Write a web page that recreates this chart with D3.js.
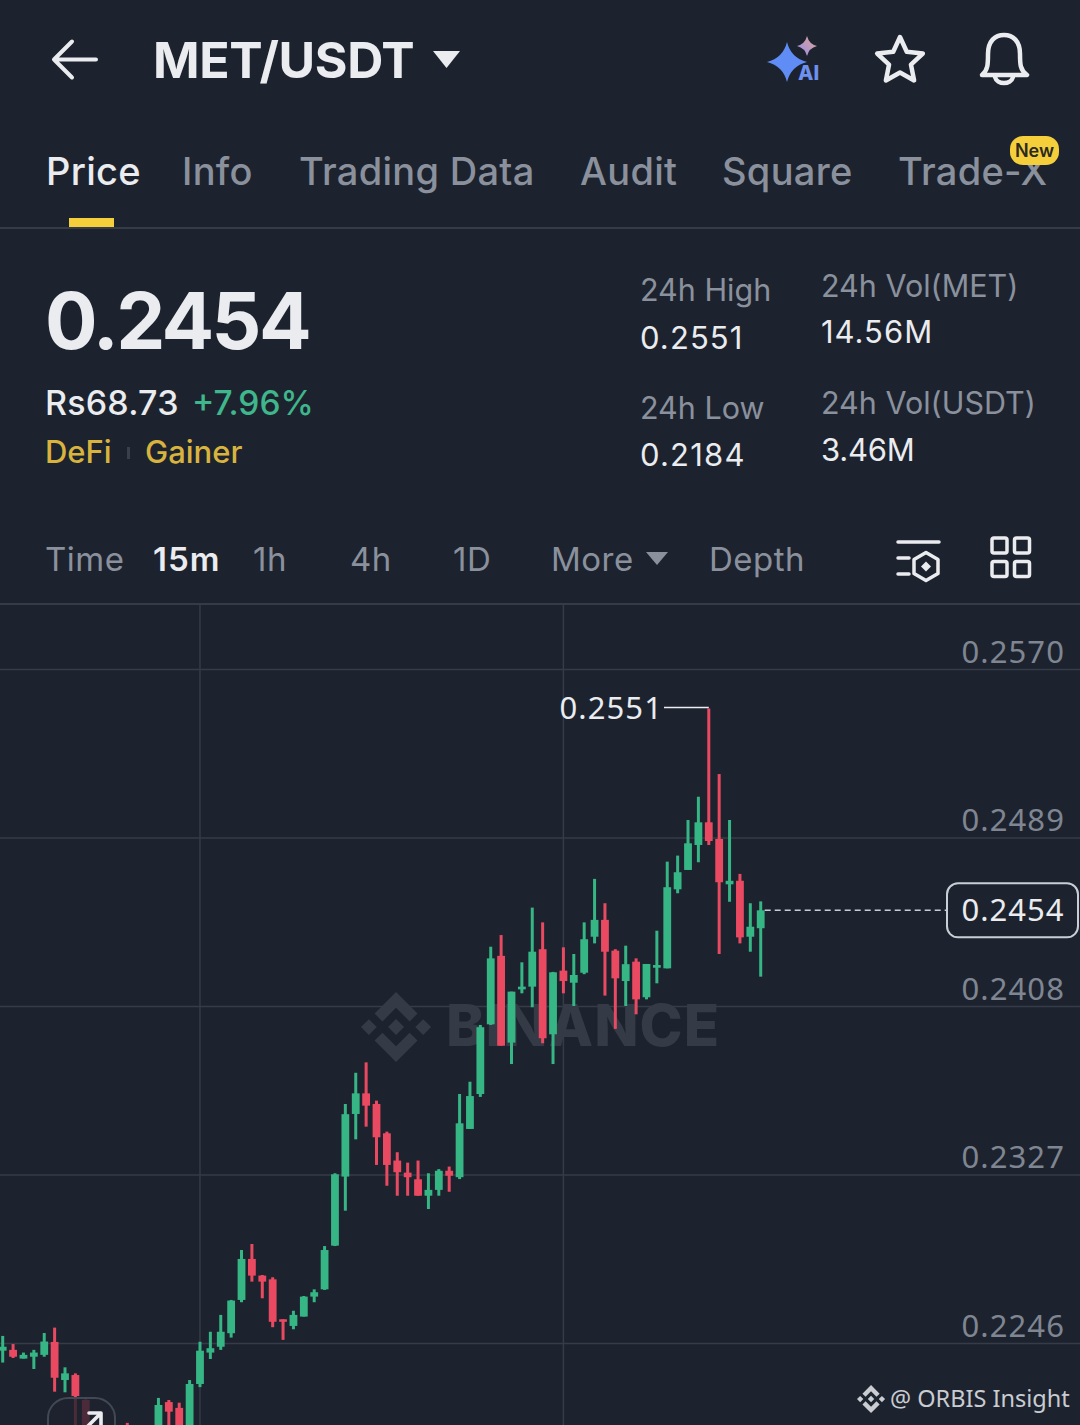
<!DOCTYPE html>
<html>
<head>
<meta charset="utf-8">
<title>MET/USDT</title>
<script src="https://cdn.jsdelivr.net/npm/d3@7"></script>
<style>
    html, body { margin: 0; padding: 0; background: #1d232e; overflow: hidden; }
    svg { display: block; }
    text { font-family: Inter, sans-serif; }
    .num { font-family: "Noto Sans", sans-serif; }
</style>
</head>
<body>
<svg id="chart" width="1080" height="1425"></svg>
<script>
const priceTicks = [0.2570, 0.2489, 0.2408, 0.2327, 0.2246];
const timeTicks = [19, 54];
const highPrice = 0.2551;
const lastPrice = 0.2454;
const highIndex = 68;
const lastIndex = 73;

const tabLabels = ["Price", "Info", "Trading Data", "Audit", "Square", "Trade-X"];
const intervalLabels = ["Time", "15m", "1h", "4h", "1D", "More", "Depth"];

// candles, null = below the bottom edge of the screen
const opens = [0.22423, 0.22427, 0.22385, 0.22394, 0.22403, 0.22465, 0.22282, 0.22306, 0.22186, null, null, null, 0.22065, null, null,
    0.22030, 0.22176, 0.22148, 0.22050, 0.22263, 0.22414, 0.22442, 0.22507, 0.22667, 0.22864, 0.22784, 0.22766, 0.22574, 0.22542, 0.22587,
    0.22683, 0.22718, 0.22928, 0.23260, 0.23561, 0.23660, 0.23609, 0.23468, 0.23337, 0.23279, 0.23247, 0.23168, 0.23196, 0.23288, 0.23257,
    0.23489, 0.23657, 0.23992, 0.24321, 0.23904, 0.24160, 0.24173, 0.24353, 0.23944, 0.24250, 0.24192, 0.24240, 0.24413, 0.24494, 0.24346,
    0.24200, 0.24293, 0.24122, 0.24264, 0.24261, 0.24641, 0.24734, 0.24854, 0.24963, 0.24883, 0.24665, 0.24682, 0.24413, 0.24454];
const highs = [0.22494, 0.22455, 0.22414, 0.22427, 0.22508, 0.22534, 0.22343, 0.22314, 0.22189, null, null, null, 0.22076, null, null,
    0.22196, 0.22186, 0.22173, 0.22282, 0.22466, 0.22514, 0.22595, 0.22667, 0.22907, 0.22936, 0.22787, 0.22776, 0.22574, 0.22615, 0.22686,
    0.22718, 0.22926, 0.23276, 0.23609, 0.23759, 0.23809, 0.23625, 0.23476, 0.23377, 0.23327, 0.23337, 0.23276, 0.23296, 0.23308, 0.23657,
    0.23716, 0.23989, 0.24365, 0.24421, 0.24149, 0.24290, 0.24553, 0.24482, 0.24244, 0.24362, 0.24330, 0.24482, 0.24691, 0.24574, 0.24353,
    0.24370, 0.24309, 0.24282, 0.24442, 0.24774, 0.24803, 0.24974, 0.25086, 0.25510, 0.25195, 0.24974, 0.24715, 0.24574, 0.24583];
const lows = [0.22366, 0.22388, 0.22385, 0.22335, 0.22394, 0.22226, 0.22223, 0.22040, 0.22030, null, null, null, 0.22010, null, null,
    0.22010, 0.22040, 0.22030, 0.22030, 0.22248, 0.22383, 0.22427, 0.22486, 0.22656, 0.22755, 0.22675, 0.22536, 0.22475, 0.22526, 0.22587,
    0.22656, 0.22715, 0.22926, 0.23096, 0.23439, 0.23500, 0.23316, 0.23216, 0.23168, 0.23168, 0.23168, 0.23104, 0.23168, 0.23187, 0.23248,
    0.23489, 0.23643, 0.23989, 0.23889, 0.23801, 0.24141, 0.24074, 0.23901, 0.23801, 0.24141, 0.24080, 0.24233, 0.24381, 0.24130, 0.23970,
    0.24080, 0.24040, 0.24112, 0.24189, 0.24261, 0.24622, 0.24734, 0.24771, 0.24854, 0.24330, 0.24581, 0.24381, 0.24341, 0.24221];
const closes = [0.22442, 0.22394, 0.22403, 0.22414, 0.22467, 0.22293, 0.22314, 0.22205, 0.22050, null, null, null, 0.22030, null, null,
    0.22162, 0.22130, 0.22050, 0.22263, 0.22423, 0.22435, 0.22514, 0.22664, 0.22864, 0.22784, 0.22755, 0.22562, 0.22562, 0.22595, 0.22683,
    0.22704, 0.22907, 0.23271, 0.23560, 0.23660, 0.23601, 0.23449, 0.23316, 0.23281, 0.23257, 0.23168, 0.23196, 0.23288, 0.23264, 0.23516,
    0.23647, 0.23978, 0.24309, 0.23889, 0.24149, 0.24173, 0.24341, 0.23925, 0.24242, 0.24200, 0.24229, 0.24401, 0.24494, 0.24341, 0.24213,
    0.24281, 0.24112, 0.24282, 0.24277, 0.24651, 0.24723, 0.24862, 0.24963, 0.24873, 0.24675, 0.24682, 0.24410, 0.24461, 0.24540];

const candles = opens.map((open, i) => ({ index: i, open, high: highs[i], low: lows[i], close: closes[i] }))
    .filter(d => d.open !== null);

const background = "#1d232e";
const white = "#eaecef";
const grey = "#8a919d";
const upColour = "#36b585";
const downColour = "#ea4a61";
const gold = "#d8b43f";
const lineColour = "#353b47";

const logoPath = "M7.35 10.08 12 5.43l4.65 4.65 2.7-2.7L12 0 4.65 7.38l2.7 2.7zM0 12l2.7-2.7 2.7 2.7-2.7 2.7L0 12zm7.35 1.92L12 18.57l4.65-4.65 2.7 2.7L12 24l-7.35-7.38 2.7-2.7zM18.6 12l2.7-2.7L24 12l-2.7 2.7-2.7-2.7zm-3.87 0L12 9.27 9.27 12 12 14.73 14.73 12z";

const svg = d3.select("#chart");
svg.append("rect").attr("width", 1080).attr("height", 1425).attr("fill", background);

const label = (parent, str, x, y, size, fill, weight = 400, cls = null, anchor = "start") =>
    parent.append("text")
        .attr("class", cls)
        .attr("x", x)
        .attr("y", y)
        .attr("font-size", size)
        .attr("font-weight", weight)
        .attr("fill", fill)
        .attr("text-anchor", anchor)
        .text(str);

const drawIcon = (parent, d, stroke, width) =>
    parent.append("path")
        .attr("d", d)
        .attr("fill", "none")
        .attr("stroke", stroke)
        .attr("stroke-width", width)
        .attr("stroke-linecap", "round")
        .attr("stroke-linejoin", "round");

const fourPoint = (cx, cy, rx, ry) => {
    const kx = rx * 0.2, ky = ry * 0.2;
    return `M${cx - rx} ${cy}Q${cx - kx} ${cy - ky} ${cx} ${cy - ry}Q${cx + kx} ${cy - ky} ${cx + rx} ${cy}Q${cx + kx} ${cy + ky} ${cx} ${cy + ry}Q${cx - kx} ${cy + ky} ${cx - rx} ${cy}Z`;
};

const renderHeader = () => {
    const g = svg.append("g");

    drawIcon(g, "M96 59.5H54M72 41.5L54 59.5L72 77.5", white, 4);
    label(g, "MET/USDT", 153, 78, 50, white, 700).attr("letter-spacing", -0.4);
    g.append("path").attr("d", "M433 51H460L446.5 68Z").attr("fill", white);

    // AI icon
    const defs = svg.append("defs");
    const pink = defs.append("linearGradient").attr("id", "pinkStar").attr("x1", 1).attr("y1", 0).attr("x2", 0).attr("y2", 1);
    pink.append("stop").attr("offset", 0).attr("stop-color", "#e8a58f");
    pink.append("stop").attr("offset", 1).attr("stop-color", "#8f8df0");
    g.append("path").attr("d", fourPoint(787, 62, 20, 20)).attr("fill", "#5f8cf5");
    g.append("path").attr("d", fourPoint(807, 46, 10, 10)).attr("fill", "url(#pinkStar)");
    label(g, "AI", 798, 80, 20, "#6e90ee", 800);

    // star
    const starPoints = d3.range(10).map(i => {
        const r = i % 2 === 0 ? 24 : 11.5;
        const a = -Math.PI / 2 + i * Math.PI / 5;
        return [900 + r * Math.cos(a), 61 + r * Math.sin(a)];
    });
    drawIcon(g, d3.line()(starPoints) + "Z", white, 4.5);

    // bell
    drawIcon(g, "M982 75C988 70 988 64 988 54C988 41 995 35 1004 35C1013 35 1020 41 1020 54C1020 64 1020 70 1027 75Z", white, 4.5);
    drawIcon(g, "M995 77C997 85 1011 85 1013 77", white, 4.5);

    const tabX = [46, 182, 299, 580, 722, 898];
    tabLabels.forEach((t, i) => {
        label(g, t, tabX[i], 185, 38, i === 0 ? white : grey, 500).attr("letter-spacing", 0.3);
    });
    g.append("rect").attr("x", 69).attr("y", 218).attr("width", 45).attr("height", 9).attr("fill", "#f5cf3b");
    g.append("rect").attr("x", 0).attr("y", 227).attr("width", 1080).attr("height", 2).attr("fill", lineColour);

    g.append("rect").attr("x", 1010).attr("y", 136).attr("width", 49).attr("height", 29).attr("rx", 13).attr("fill", "#f5cf3b");
    label(g, "New", 1034.5, 157, 18, "#2b2a22", 600, null, "middle");
};

const renderStats = () => {
    const g = svg.append("g");

    label(g, "0.2454", 45, 349, 78, white, 700).attr("letter-spacing", -2.6);
    label(g, "Rs68.73", 45, 415, 34, white, 500).attr("letter-spacing", 0.2);
    label(g, "+7.96%", 192, 415, 33.5, "#3fb68b", 500);
    label(g, "DeFi", 45, 463, 31, gold, 500);
    g.append("rect").attr("x", 127).attr("y", 447).attr("width", 3).attr("height", 12).attr("fill", "#3a404b");
    label(g, "Gainer", 145, 463, 31, gold, 500);

    label(g, "24h High", 640, 301, 30.5, grey);
    label(g, "0.2551", 640, 349, 31, white).attr("letter-spacing", 1.1);
    label(g, "24h Low", 640, 419, 30.5, grey);
    label(g, "0.2184", 640, 466, 31, white).attr("letter-spacing", 1.2);
    label(g, "24h Vol(MET)", 821, 297, 30.5, grey);
    label(g, "14.56M", 821, 343, 31, white).attr("letter-spacing", 1);
    label(g, "24h Vol(USDT)", 821, 414, 30.5, grey);
    label(g, "3.46M", 821, 461, 31, white).attr("letter-spacing", -0.2);
};

const renderIntervals = () => {
    const g = svg.append("g");

    const intervalX = [45, 153, 253, 350, 453, 551, 709];
    intervalLabels.forEach((t, i) => {
        label(g, t, intervalX[i], 571, 33, i === 1 ? white : grey, i === 1 ? 600 : 400)
            .attr("letter-spacing", i === 1 ? 1 : 0.5);
    });
    g.append("path").attr("d", "M646 552H668L657 565Z").attr("fill", grey);

    drawIcon(g, "M898 542H939M898 558H909M898 574H909", white, 3.5);
    drawIcon(g, "M926 552.5L938 559.5V573.5L926 580.5L914 573.5V559.5Z", white, 3.5);
    g.append("path").attr("d", "M926 561.5L931 566.5L926 571.5L921 566.5Z").attr("fill", white);

    [[992, 538], [1014.5, 538], [992, 561.5], [1014.5, 561.5]].forEach(([x, y]) => {
        g.append("rect").attr("x", x).attr("y", y).attr("width", 15).attr("height", 15).attr("rx", 2)
            .attr("fill", "none").attr("stroke", white).attr("stroke-width", 3.5);
    });
    g.append("rect").attr("x", 0).attr("y", 603).attr("width", 1080).attr("height", 2).attr("fill", lineColour);
};

const renderChart = () => {
    const xScale = d3.scaleLinear().domain([0, 73]).range([2.7, 760.7]);
    const yScale = d3.scaleLinear().domain([0.2570, 0.2246]).range([669, 1343]);

    const chartArea = svg.append("g");

    // grid and price labels
    const yAxis = d3.axisLeft(yScale)
        .tickValues(priceTicks)
        .tickSize(1080)
        .tickFormat(d3.format(".4f"));

    const yAxisG = chartArea.append("g")
        .attr("transform", "translate(1080,0)")
        .call(yAxis);
    yAxisG.select(".domain").remove();
    yAxisG.selectAll("line").attr("stroke", lineColour).attr("stroke-width", 1.5);
    yAxisG.selectAll("text")
        .attr("class", "num")
        .attr("x", -15)
        .attr("y", -7)
        .attr("dy", 0)
        .attr("font-size", 31)
        .attr("letter-spacing", 1.1)
        .attr("fill", "#7f8692")
        .attr("text-anchor", "end");

    chartArea.selectAll(".time-grid")
        .data(timeTicks)
        .join("line")
        .attr("class", "time-grid")
        .attr("x1", d => xScale(d))
        .attr("x2", d => xScale(d))
        .attr("y1", 605)
        .attr("y2", 1425)
        .attr("stroke", lineColour)
        .attr("stroke-width", 1.5);

    // watermark
    chartArea.append("path")
        .attr("d", logoPath)
        .attr("transform", "translate(361,992) scale(2.92)")
        .attr("fill", "#343a46");
    label(chartArea, "BINANCE", 446, 1046, 58, "#343a46", 800).attr("letter-spacing", 1);

    // candles
    const colour = d => d.close >= d.open ? upColour : downColour;

    chartArea.selectAll(".wick")
        .data(candles)
        .join("line")
        .attr("class", "wick")
        .attr("x1", d => xScale(d.index))
        .attr("x2", d => xScale(d.index))
        .attr("y1", d => yScale(d.high))
        .attr("y2", d => yScale(d.low))
        .attr("stroke", colour)
        .attr("stroke-width", 3);

    chartArea.selectAll(".body")
        .data(candles)
        .join("rect")
        .attr("class", "body")
        .attr("x", d => xScale(d.index) - 3.9)
        .attr("width", 7.8)
        .attr("y", d => yScale(Math.max(d.open, d.close)))
        .attr("height", d => Math.abs(yScale(d.open) - yScale(d.close)))
        .attr("fill", colour);

    // high marker
    const highY = yScale(highPrice);
    chartArea.append("line")
        .attr("x1", 664).attr("x2", xScale(highIndex))
        .attr("y1", highY - 1).attr("y2", highY - 1)
        .attr("stroke", white).attr("stroke-width", 1.5);
    label(chartArea, d3.format(".4f")(highPrice), 663, 719, 31, white, 400, "num", "end").attr("letter-spacing", 1.1);

    // last price marker
    const lastY = yScale(lastPrice);
    chartArea.append("line")
        .attr("x1", xScale(lastIndex) + 4).attr("x2", 947)
        .attr("y1", lastY).attr("y2", lastY)
        .attr("stroke", "#c9ced6").attr("stroke-width", 1.6)
        .attr("stroke-dasharray", "6 4");
    chartArea.append("rect")
        .attr("x", 947).attr("y", lastY - 27)
        .attr("width", 131).attr("height", 54).attr("rx", 11)
        .attr("fill", background).attr("stroke", "#c9ced6").attr("stroke-width", 2);
    label(chartArea, d3.format(".4f")(lastPrice), 1013, lastY + 11, 31, white, 400, "num", "middle").attr("letter-spacing", 1);

    // corner button over the candles
    chartArea.append("rect")
        .attr("x", 48).attr("y", 1398).attr("width", 67).attr("height", 60).attr("rx", 20)
        .attr("fill", background).attr("fill-opacity", 0.78)
        .attr("stroke", "#424854").attr("stroke-width", 2);
    drawIcon(chartArea, "M85 1429L100 1414M89 1413H101V1425", white, 3.6);

    // footer credit
    chartArea.append("path")
        .attr("d", logoPath)
        .attr("transform", "translate(857,1385) scale(1.17)")
        .attr("fill", "#c9ccd1");
    label(chartArea, "@ ORBIS Insight", 890, 1407, 23.5, "#c9ccd1", 400, "num");
};

renderHeader();
renderStats();
renderIntervals();
renderChart();
</script>
</body>
</html>
